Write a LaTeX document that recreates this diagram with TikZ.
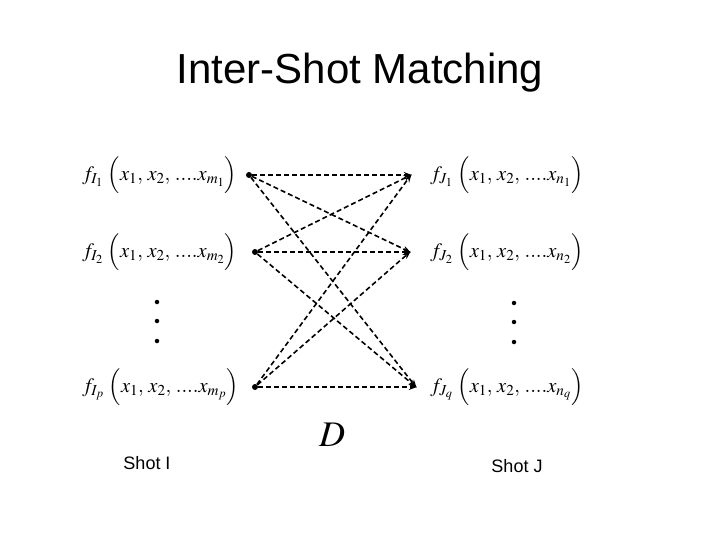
\documentclass[tikz,border=0pt]{standalone}
\usepackage{mathptmx}
\usepackage{fontspec}
\setmainfont{Liberation Serif}
\newfontfamily\arialfont{Liberation Sans}
\usetikzlibrary{arrows.meta}
\begin{document}
\begin{tikzpicture}[x=1pt,y=-1pt,
  feat/.style={anchor=west, inner sep=0pt, font=\fontsize{20.5}{24}\selectfont},
  endpt/.style={circle, fill, inner sep=0pt, minimum size=6pt},
  tip/.style={inner sep=0pt, minimum size=0pt},
  link/.style={dashed, line width=1.6pt, dash pattern=on 5pt off 3pt, -{Stealth[length=8pt,width=6pt]}, shorten >=-1pt},
  vdot/.style={circle, fill, inner sep=0pt, minimum size=4.5pt},
  label/.style={font=\arialfont\fontsize{18}{21}\selectfont}]
\useasboundingbox (0,0) rectangle (720,540);
\node[font=\arialfont\fontsize{42}{48}\selectfont, anchor=base] (title) at (360,84) {Inter-Shot Matching};
% left features
\node[feat] (fI1) at (82,175) {$f_{I_1}\;\Big(x_1,\, x_2,\, ....x_{m_1}\Big)$};
\node[feat] (fI2) at (82,252) {$f_{I_2}\;\Big(x_1,\, x_2,\, ....x_{m_2}\Big)$};
\node[feat] (fIp) at (82,387) {$f_{I_p}\;\Big(x_1,\, x_2,\, ....x_{m_p}\Big)$};
% right features
\node[feat] (fJ1) at (430,175) {$f_{J_1}\;\Big(x_1,\, x_2,\, ....x_{n_1}\Big)$};
\node[feat] (fJ2) at (430,252) {$f_{J_2}\;\Big(x_1,\, x_2,\, ....x_{n_2}\Big)$};
\node[feat] (fJq) at (430,387) {$f_{J_q}\;\Big(x_1,\, x_2,\, ....x_{n_q}\Big)$};
% end points
\node[endpt] (L1) at (249,175) {};
\node[endpt] (L2) at (255,252) {};
\node[endpt] (Lp) at (255,387) {};
\node[tip] (R1) at (411,175) {};
\node[tip] (R2) at (410,252) {};
\node[tip] (Rq) at (416,387) {};
% vertical dots
\foreach \y in {302,321,341} {
  \node[vdot] at (157,\y) {};
  \node[vdot] at (514,\y+1) {};
}
\foreach \a in {L1,L2,Lp}
  \foreach \b in {R1,R2,Rq}
    \draw[link] (\a) -- (\b);
\node[font=\fontsize{36}{40}\selectfont] (D) at (332,435) {$D$};
\node[label] (shotI) at (147,463) {Shot I};
\node[label] (shotJ) at (517,466) {Shot J};
\end{tikzpicture}
\end{document}
